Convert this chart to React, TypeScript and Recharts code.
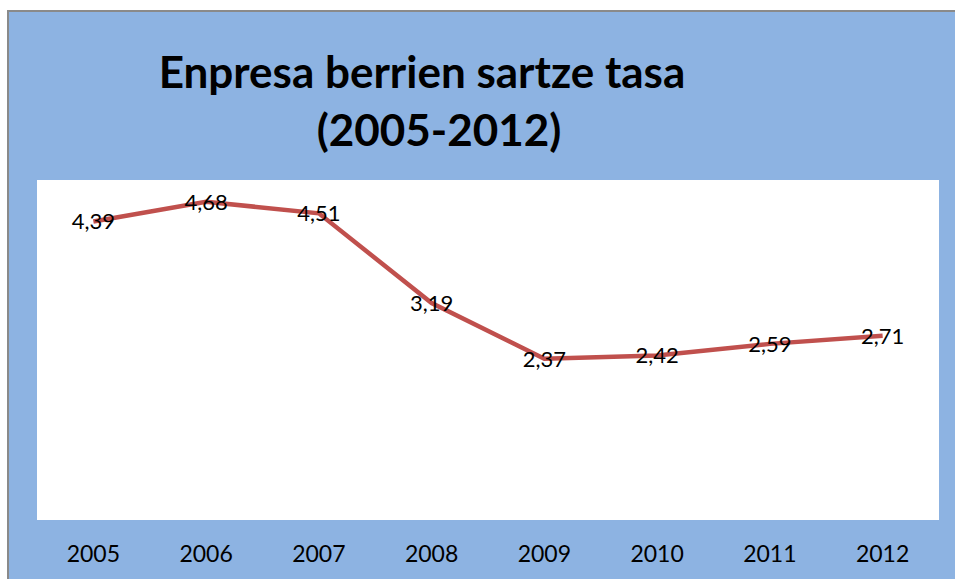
import { LineChart, Line, XAxis, YAxis, CartesianGrid, LabelList } from "recharts";

const years = ["2005", "2006", "2007", "2008", "2009", "2010", "2011", "2012"];
const rates = [4.39, 4.68, 4.51, 3.19, 2.37, 2.42, 2.59, 2.71];

const data = years.map((year, i) => ({ year, rate: rates[i] }));

const FONT = "Lato, 'Open Sans', sans-serif";

const YearTick = (props: any) => {
  const { x, y, payload } = props;
  return (
    <text
      x={x}
      y={y + 25}
      textAnchor="middle"
      dominantBaseline="central"
      fontSize={23}
      fontFamily={FONT}
      fill="#000"
    >
      {payload.value}
    </text>
  );
};

const titleStyle = {
  position: "absolute" as const,
  width: 600,
  textAlign: "center" as const,
  fontFamily: FONT,
  fontWeight: 700,
  fontSize: 44,
  lineHeight: "50px",
  color: "#000",
  whiteSpace: "nowrap" as const,
};

export default function App() {
  return (
    <div
      style={{
        position: "absolute",
        left: 0,
        top: 0,
        width: 955,
        height: 579,
        overflow: "hidden",
        background: "#fff",
      }}
    >
      <div
        style={{
          position: "absolute",
          left: 7,
          top: 10,
          width: 960,
          height: 580,
          background: "#8db3e2",
          borderLeft: "2px solid #8a8a8a",
          borderTop: "2px solid #8a8a8a",
        }}
      />
      <div style={{ ...titleStyle, left: 422 - 300, top: 46 }}>Enpresa berrien sartze tasa</div>
      <div style={{ ...titleStyle, left: 439 - 300, top: 104 }}>(2005-2012)</div>
      <div style={{ position: "absolute", left: 0, top: 0 }}>
        <LineChart
          width={955}
          height={579}
          data={data}
          margin={{ top: 180, right: 16, left: 37, bottom: 0 }}
        >
          <CartesianGrid fill="#ffffff" stroke="none" horizontal={false} vertical={false} />
          <XAxis
            dataKey="year"
            scale="band"
            height={59}
            axisLine={false}
            tickLine={false}
            tick={<YearTick />}
            interval={0}
          />
          <YAxis hide domain={[0, 5]} />
          <Line
            type="linear"
            dataKey="rate"
            stroke="#c0504d"
            strokeWidth={4.5}
            dot={false}
            isAnimationActive={false}
          >
            <LabelList
              dataKey="rate"
              position="center"
              fontSize={22}
              fontFamily={FONT}
              fill="#000"
              formatter={(v: any) => Number(v).toFixed(2).replace(".", ",")}
            />
          </Line>
        </LineChart>
      </div>
    </div>
  );
}
